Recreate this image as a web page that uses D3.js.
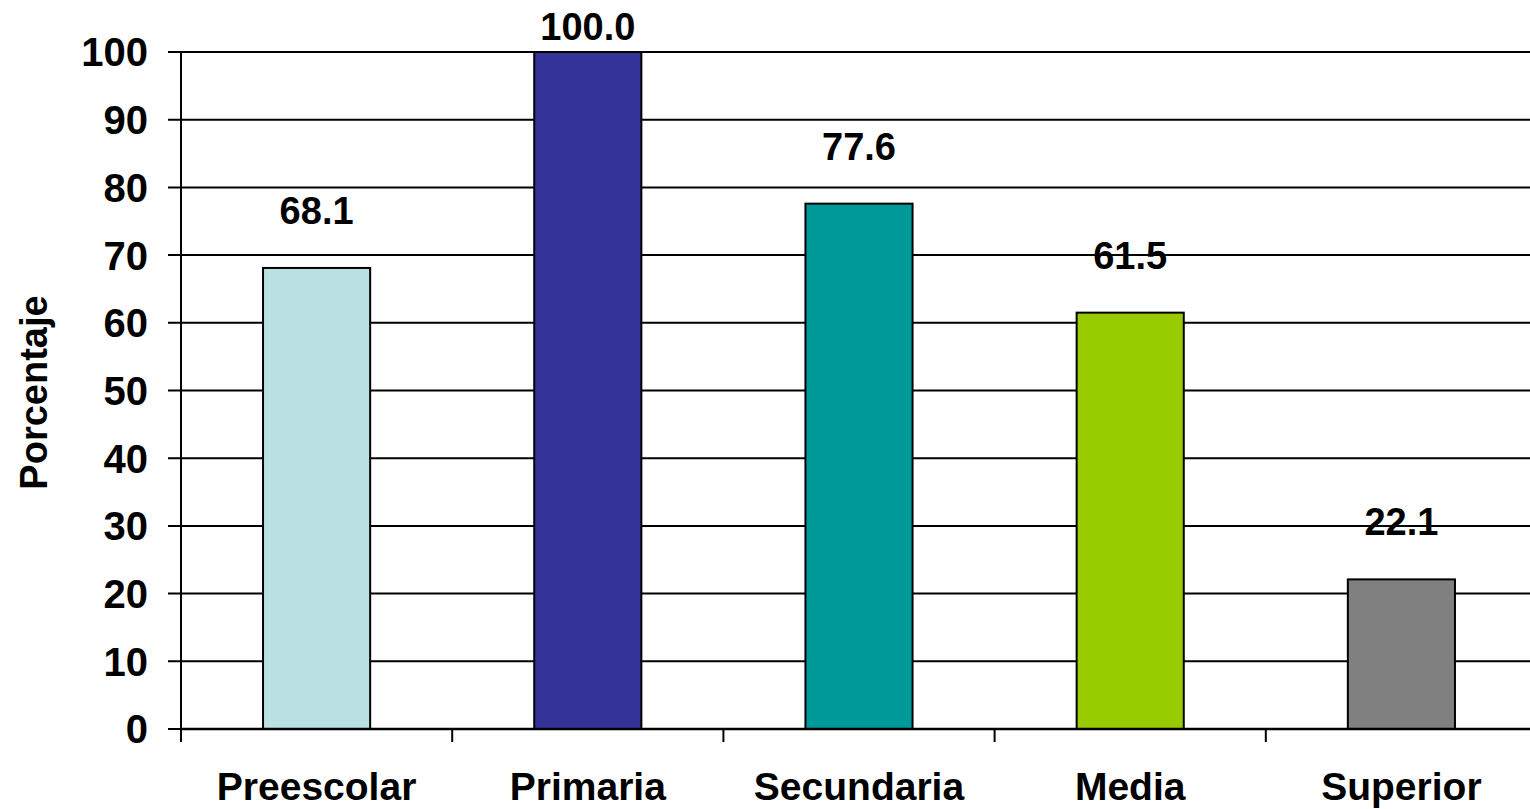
<!DOCTYPE html>
<html>
<head>
<meta charset="utf-8">
<script src="https://cdn.jsdelivr.net/npm/d3@7.9.0/dist/d3.min.js"></script>
<style>
  html, body { margin: 0; padding: 0; background: #fff; }
  svg { display: block; }
  text { font-family: "Liberation Sans", Arial, sans-serif; font-weight: bold; fill: #000; }
</style>
</head>
<body>
<svg id="chart" width="1530" height="809"></svg>
<script>
const categories = ['Preescolar', 'Primaria', 'Secundaria', 'Media', 'Superior'];
const values = [68.1, 100.0, 77.6, 61.5, 22.1];
const barColors = ['#BBE0E3', '#333399', '#009999', '#99CC00', '#808080'];
const yTicks = [0, 10, 20, 30, 40, 50, 60, 70, 80, 90, 100];

const width = 1530;
const height = 809;
const margin = { top: 52, right: -7, bottom: 80, left: 181 };

const svg = d3.select('#chart');

let x = d3.scaleBand()
  .domain(categories)
  .range([margin.left, width - margin.right])
  .paddingInner(0.605)
  .paddingOuter(0.3025);

let y = d3.scaleLinear()
  .domain([0, 100])
  .range([height - margin.bottom, margin.top]);

// gridlines + y ticks
svg.append('g')
  .selectAll('line')
  .data(yTicks)
  .join('line')
  .attr('x1', margin.left - 13)
  .attr('x2', width)
  .attr('y1', (d) => y(d))
  .attr('y2', (d) => y(d))
  .attr('stroke', '#000')
  .attr('stroke-width', 2);

svg.append('g')
  .selectAll('text')
  .data(yTicks)
  .join('text')
  .attr('x', margin.left - 33)
  .attr('y', (d) => y(d))
  .attr('dy', '0.36em')
  .attr('text-anchor', 'end')
  .style('font-size', '40px')
  .text((d) => d);

// bars
svg.append('g')
  .selectAll('rect')
  .data(categories)
  .join('rect')
  .attr('x', (d) => x(d))
  .attr('width', x.bandwidth())
  .attr('y', (d, i) => y(values[i]))
  .attr('height', (d, i) => y(0) - y(values[i]))
  .attr('fill', (d, i) => barColors[i])
  .attr('stroke', '#000')
  .attr('stroke-width', 2);

// axes lines
svg.append('line')
  .attr('x1', margin.left).attr('x2', margin.left)
  .attr('y1', y(100)).attr('y2', y(0) + 13)
  .attr('stroke', '#000').attr('stroke-width', 2);

svg.append('line')
  .attr('x1', margin.left).attr('x2', width)
  .attr('y1', y(0)).attr('y2', y(0))
  .attr('stroke', '#000').attr('stroke-width', 2.5);

// category boundary ticks
let step = x.step();
svg.append('g')
  .selectAll('line')
  .data(d3.range(categories.length + 1))
  .join('line')
  .attr('x1', (i) => margin.left + i * step)
  .attr('x2', (i) => margin.left + i * step)
  .attr('y1', y(0))
  .attr('y2', y(0) + 13)
  .attr('stroke', '#000')
  .attr('stroke-width', 2);

// category labels
svg.append('g')
  .selectAll('text')
  .data(categories)
  .join('text')
  .attr('x', (d) => x(d) + x.bandwidth() / 2)
  .attr('y', 800)
  .attr('text-anchor', 'middle')
  .style('font-size', '39px')
  .text((d) => d);

// value labels
svg.append('g')
  .selectAll('text')
  .data(values)
  .join('text')
  .attr('x', (d, i) => x(categories[i]) + x.bandwidth() / 2)
  .attr('y', (d) => Math.max(y(d) - 44, 40))
  .attr('text-anchor', 'middle')
  .style('font-size', '38px')
  .text((d) => d.toFixed(1));

// y axis title
svg.append('text')
  .attr('transform', `translate(47, ${(y(0) + y(100)) / 2 + 2}) rotate(-90)`)
  .attr('text-anchor', 'middle')
  .style('font-size', '38px')
  .text('Porcentaje');
</script>
</body>
</html>
